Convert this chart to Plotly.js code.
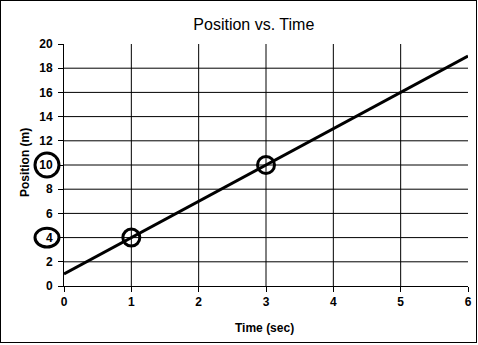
<!DOCTYPE html>
<html>
<head>
<meta charset="utf-8">
<script src="https://cdn.plot.ly/plotly-3.0.1.min.js"></script>
<style>
html,body{margin:0;padding:0;background:#fff;}
#wrap{position:relative;width:478px;height:345px;}
#chart{width:478px;height:345px;}
#frame{position:absolute;left:0;top:0;width:475px;height:341px;border:1px solid #000;pointer-events:none;}
</style>
</head>
<body>
<div id="wrap"><div id="chart"></div><div id="frame"></div></div>
<script>
// Data
const timeSec = [0, 1, 2, 3, 4, 5, 6];
const positionM = [1, 4, 7, 10, 13, 16, 19];
const markedTime = [1, 3];
const markedPos = [4, 10];
const circledLabels = [4, 10];
const xTicks = [0, 1, 2, 3, 4, 5, 6];
const yTicks = [0, 2, 4, 6, 8, 10, 12, 14, 16, 18, 20];

const fontFam = 'Arial, "Liberation Sans", sans-serif';

const traces = [
  {x: timeSec, y: positionM, mode: 'lines', line: {color: '#000', width: 3}, hoverinfo: 'none'},
  {x: markedTime, y: markedPos, mode: 'markers', cliponaxis: false,
   marker: {symbol: 'circle-open', size: 17, color: '#000', line: {color: '#000', width: 3}}}
];

// gridlines only at interior values (as in reference)
const shapes = [];
xTicks.filter(v => v > 0 && v < 6).forEach(v => shapes.push({type: 'line', xref: 'x', yref: 'y', x0: v, x1: v, y0: 0, y1: 20, line: {color: '#000', width: 1}, layer: 'below'}));
yTicks.filter(v => v > 0 && v < 20).forEach(v => shapes.push({type: 'line', xref: 'x', yref: 'y', x0: 0, x1: 6, y0: v, y1: v, line: {color: '#000', width: 1}, layer: 'below'}));
// ellipses around the circled tick labels
const halfH = {4: 0.78, 10: 1.0};
circledLabels.forEach(v => shapes.push({type: 'circle', xref: 'paper', yref: 'y',
  x0: -0.0718, x1: -0.0124, y0: v - halfH[v], y1: v + halfH[v],
  line: {color: '#000', width: 3}}));

const layout = {
  width: 478, height: 345,
  margin: {l: 64, r: 10, t: 44, b: 59},
  paper_bgcolor: '#fff', plot_bgcolor: '#fff',
  showlegend: false,
  title: {text: 'Position vs. Time', font: {family: fontFam, size: 16, color: '#000'},
          xref: 'container', x: 0.531, xanchor: 'center', yref: 'container', y: 0.928, yanchor: 'middle'},
  xaxis: {
    range: [0, 6], tickvals: xTicks, ticktext: xTicks.map(v => '<b>' + v + '</b>'),
    showgrid: false, zeroline: false, showline: true, linecolor: '#000', linewidth: 1,
    ticks: 'outside', ticklen: 5, tickcolor: '#000', tickwidth: 1,
    tickfont: {family: fontFam, size: 12, color: '#000'},
    fixedrange: true
  },
  yaxis: {
    range: [0, 20], tickvals: yTicks, ticktext: yTicks.map(v => '<b>' + v + '</b>'),
    showgrid: false, zeroline: false, showline: true, linecolor: '#000', linewidth: 1,
    ticks: 'outside', ticklen: 5, tickcolor: '#000', tickwidth: 1, ticklabelstandoff: 3,
    tickfont: {family: fontFam, size: 12, color: '#000'},
    fixedrange: true
  },
  annotations: [
    {text: '<b>Time (sec)</b>', xref: 'paper', yref: 'paper', x: 0.4975, y: -0.1736,
     xanchor: 'center', yanchor: 'middle', showarrow: false, font: {family: fontFam, size: 12, color: '#000'}},
    {text: '<b>Position (m)</b>', xref: 'paper', yref: 'paper', x: -0.0978, y: 0.51, textangle: -90,
     xanchor: 'center', yanchor: 'middle', showarrow: false, font: {family: fontFam, size: 12, color: '#000'}}
  ],
  shapes: shapes
};

Plotly.newPlot('chart', traces, layout, {staticPlot: true, displayModeBar: false});
</script>
</body>
</html>
